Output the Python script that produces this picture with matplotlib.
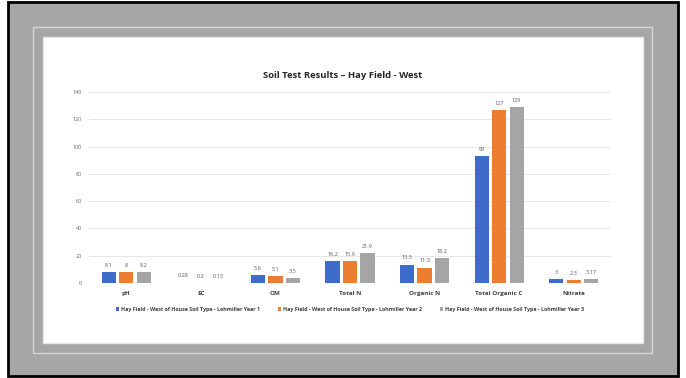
import matplotlib
matplotlib.use("Agg")
import matplotlib.pyplot as plt
from matplotlib.patches import Rectangle
import numpy as np

categories = ["pH", "EC", "OM", "Total N", "Organic N", "Total Organic C", "Nitrate"]
year1 = [8.1, 0.28, 5.6, 16.2, 13.5, 93, 3]
year2 = [8, 0.2, 5.1, 15.9, 11.3, 127, 2.3]
year3 = [8.2, 0.13, 3.5, 21.9, 18.2, 129, 3.17]
series_names = [
    "Hay Field - West of House Soil Type - Lohmiller Year 1",
    "Hay Field - West of House Soil Type - Lohmiller Year 2",
    "Hay Field - West of House Soil Type - Lohmiller Year 3",
]
labels1 = ["8.1", "0.28", "5.6", "16.2", "13.5", "93", "3"]
labels2 = ["8", "0.2", "5.1", "15.9", "11.3", "127", "2.3"]
labels3 = ["8.2", "0.13", "3.5", "21.9", "18.2", "129", "3.17"]
yticks = [0, 20, 40, 60, 80, 100, 120, 140]
colors = ["#3d6bc9", "#ed7d31", "#a5a5a5"]
title = "Soil Test Results \u2013 Hay Field - West"

W, H = 686, 378
fig = plt.figure(figsize=(W / 100, H / 100), dpi=100)
fig.patch.set_facecolor("white")

def px_rect(x0, y0, x1, y1, **kw):
    r = Rectangle((x0 / W, 1 - y1 / H), (x1 - x0) / W, (y1 - y0) / H,
                  transform=fig.transFigure, zorder=-5, **kw)
    fig.patches.append(r)

px_rect(8, 2, 678, 376, facecolor="#a6a6a6", edgecolor="black", linewidth=2)
px_rect(33, 27, 652, 353, facecolor="none", edgecolor="#d6d6d6", linewidth=1)
px_rect(43, 37, 643, 343, facecolor="white", edgecolor="#e6e6e6", linewidth=1)

ax = fig.add_axes([89 / W, 1 - 283 / H, 522 / W, (283 - 92) / H])
ax.set_zorder(5)
ax.set_facecolor("none")
x = np.arange(len(categories))
bw = 0.19
step = 0.235
for i, (vals, labs) in enumerate(zip([year1, year2, year3], [labels1, labels2, labels3])):
    bars = ax.bar(x + (i - 1) * step, vals, bw, color=colors[i], label=series_names[i], zorder=3)
    for b, lab in zip(bars, labs):
        ax.annotate(lab, (b.get_x() + b.get_width() / 2, b.get_height()),
                    xytext=(0, 3), textcoords="offset points", ha="center", va="bottom",
                    fontsize=4, color="#595959", family="Open Sans")

ax.set_xlim(-0.5, len(categories) - 0.5)
ax.set_ylim(0, 140)
ax.set_yticks(yticks)
ax.set_yticklabels([str(v) for v in yticks], fontsize=4, color="#6b6b6b", family="Open Sans")
ax.set_xticks(x)
ax.set_xticklabels(categories, fontsize=4.5, fontweight="bold", color="#404040", family="Open Sans")
ax.tick_params(axis="both", length=0, pad=6)
ax.tick_params(axis="y", pad=5)
ax.grid(axis="y", color="#e3e3e3", linewidth=0.6, zorder=0)
for s in ax.spines.values():
    s.set_visible(False)

fig.text(343 / W, 1 - 75 / H, title, ha="center", va="center", fontsize=6.8,
         fontweight="bold", color="#262626", family="Open Sans")

leg = ax.legend(loc="upper center", bbox_to_anchor=(0.5, -0.1), ncol=3, frameon=False,
                handlelength=0.6, handleheight=0.6, columnspacing=3.4,
                handletextpad=0.3, prop={"family": "Open Sans", "weight": "bold", "size": 3.85})
for t in leg.get_texts():
    t.set_color("#404040")

fig.savefig("out.png", dpi=100)
